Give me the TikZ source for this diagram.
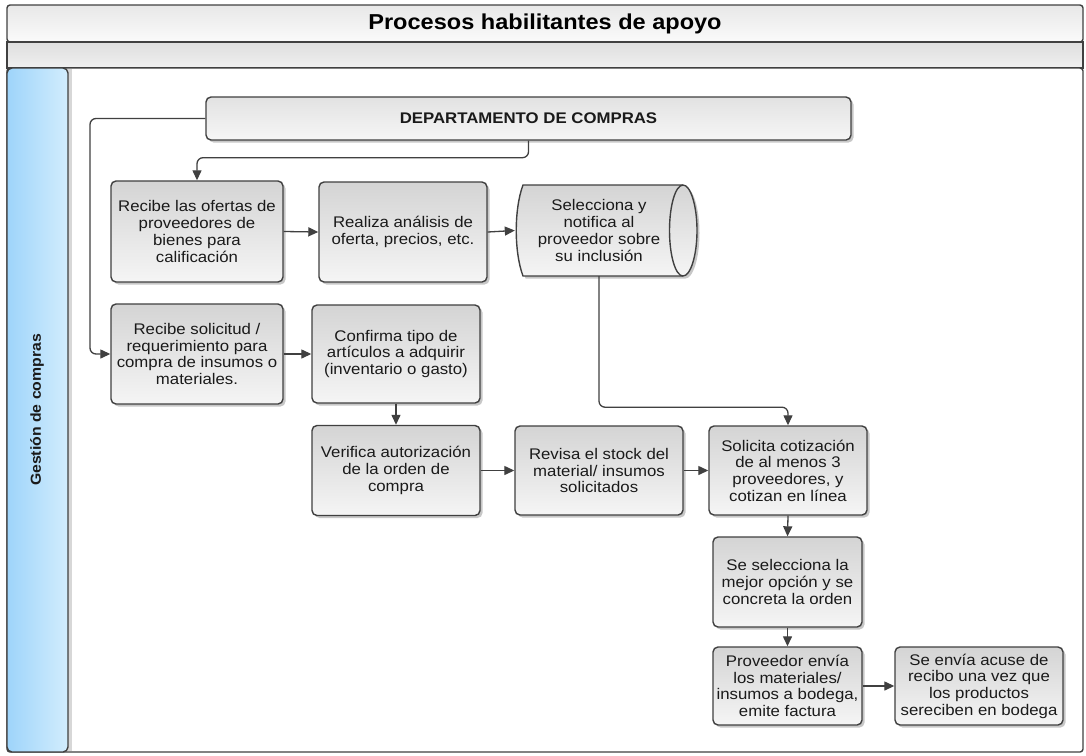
\documentclass[tikz,border=0pt]{standalone}
\usepackage{fontspec}
\setmainfont{Liberation Sans}[FakeStretch=1.09]
\usetikzlibrary{arrows.meta,shadows}

\definecolor{edge}{RGB}{64,64,64}
\definecolor{txt}{RGB}{26,26,26}
\definecolor{boxtop}{RGB}{212,212,212}
\definecolor{boxbot}{RGB}{245,245,245}
\definecolor{depttop}{RGB}{226,226,226}
\definecolor{deptbot}{RGB}{246,246,246}
\definecolor{bandtop}{RGB}{232,232,232}
\definecolor{bandbot}{RGB}{250,250,250}
\definecolor{subtop}{RGB}{222,222,222}
\definecolor{subbot}{RGB}{240,240,240}
\definecolor{laneleft}{RGB}{158,212,250}
\definecolor{laneright}{RGB}{210,237,253}
\definecolor{lanestrip}{RGB}{215,215,215}

\newcommand{\boxfont}{\fontsize{15.4}{16.7}\selectfont}

\tikzset{
  frame/.style={draw=edge, line width=1.4pt, inner sep=0pt},
  proc/.style={draw=edge, line width=1.4pt, rounded corners=5pt,
    top color=boxtop, bottom color=boxbot,
    drop shadow={shadow xshift=2.5pt, shadow yshift=-2.5pt, fill=black, opacity=0.22},
    align=center, font=\boxfont, text=txt, inner sep=0pt},
  conn/.style={draw=edge, line width=1.3pt, rounded corners=6pt,
    -{Triangle[length=10pt,width=9pt]}},
}

\begin{document}
\begin{tikzpicture}[x=1pt,y=-1pt]
\useasboundingbox (0,0) rectangle (1086,755);

% ---- pool header bands ----
\node[frame, rounded corners=3pt, top color=bandtop, bottom color=bandbot,
      minimum width=1076pt, minimum height=37pt] (title) at (545,23.5)
      {\fontsize{21.6}{24}\selectfont\bfseries Procesos habilitantes de apoyo};
\node[frame, top color=subtop, bottom color=subbot,
      minimum width=1076pt, minimum height=26pt] (band) at (545,55) {};

% ---- lane ----
\node[frame, fill=white, rounded corners=3pt,
      minimum width=1076pt, minimum height=684pt] (lane) at (545,410) {};
\fill[lanestrip] (68,69) rectangle (72,751);
\node[frame, rounded corners=5pt, left color=laneleft, right color=laneright,
      minimum width=61pt, minimum height=684pt] (hdr) at (37.5,410) {};
\node[rotate=90, font=\fontsize{14.5}{16}\selectfont\bfseries, text=txt]
      (lanelabel) at (37,410) {Gestión de compras};

% ---- process boxes ----
\node[proc, top color=depttop, bottom color=deptbot,
      minimum width=645pt, minimum height=43pt, font=\boxfont\bfseries]
      (dept) at (528.5,118.5) {DEPARTAMENTO DE COMPRAS};

\node[proc, minimum width=172pt, minimum height=101pt] (b1) at (197,231.5)
  {Recibe las ofertas de\\proveedores de\\bienes para\\calificación};
\node[proc, minimum width=168pt, minimum height=100pt] (b2) at (403,232)
  {Realiza análisis de\\oferta, precios, etc.};

% storage-style shape (drawn as a path around a text node)
\path[draw=edge, line width=1.4pt, top color=boxtop, bottom color=boxbot,
      drop shadow={shadow xshift=2.5pt, shadow yshift=-2.5pt, fill=black, opacity=0.22}]
  (523,185) -- (683,185)
  .. controls (690.5,185) and (697,205.4) .. (697,230.5)
  .. controls (697,255.6) and (690.5,276) .. (683,276)
  -- (523,276)
  .. controls (514,252) and (514,209) .. (523,185) -- cycle;
\draw[edge, line width=1.4pt]
  (683,185) .. controls (675.5,185) and (669.5,205.4) .. (669.5,230.5)
  .. controls (669.5,255.6) and (675.5,276) .. (683,276);
\node[align=center, font=\boxfont, text=txt, inner sep=0pt,
      minimum width=182pt, minimum height=91pt] (cyl) at (606,230.5)
  {\hspace*{-14pt}Selecciona y\\\hspace*{-14pt}notifica al\\\hspace*{-14pt}proveedor sobre\\\hspace*{-14pt}su inclusión};

\node[proc, minimum width=172pt, minimum height=100pt] (b4) at (197,354)
  {Recibe solicitud /\\requerimiento para\\compra de insumos o\\materiales.};
\node[proc, minimum width=168pt, minimum height=98pt] (b5) at (396,354)
  {Confirma tipo de\\artículos a adquirir\\(inventario o gasto)};
\node[proc, minimum width=168pt, minimum height=90pt] (ver) at (396,470.5)
  {Verifica autorización\\de la orden de\\compra};
\node[proc, minimum width=168pt, minimum height=89pt] (rev) at (599,470.5)
  {Revisa el stock del\\material/ insumos\\solicitados};
\node[proc, minimum width=158pt, minimum height=89pt] (sol) at (788,470.5)
  {Solicita cotización\\de al menos 3\\proveedores, y\\cotizan en línea};
\node[proc, minimum width=149pt, minimum height=90pt] (sel) at (787.5,582)
  {Se selecciona la\\mejor opción y se\\concreta la orden};
\node[proc, minimum width=149pt, minimum height=78pt] (prov) at (787.5,686)
  {Proveedor envía\\los materiales/\\insumos a bodega,\\emite factura};
\node[proc, minimum width=168pt, minimum height=78pt] (env) at (979,686)
  {Se envía acuse de\\recibo una vez que\\los productos\\sereciben en bodega};

% ---- connectors ----
\coordinate (bend1) at (90,354);
\draw[conn] (dept.west) -| (bend1) -- (b4.west);
\draw[conn] (dept.south) -- ++(0,17) -| (b1.north);
\draw[conn] (b1.east) -- (b2.west);
\draw[conn] (b2.east) -- (cyl.west);
\draw[conn] ([xshift=-7pt]cyl.south) -- ++(0,131) -| (sol.north);
\draw[conn] (b4.east) -- (b5.west);
\draw[conn] (b5.south) -- (ver.north);
\draw[conn] (ver.east) -- (rev.west);
\draw[conn] (rev.east) -- (sol.west);
\draw[conn] (sol.south) -- (sel.north);
\draw[conn] (sel.south) -- (prov.north);
\draw[conn] (prov.east) -- (env.west);
\end{tikzpicture}
\end{document}
